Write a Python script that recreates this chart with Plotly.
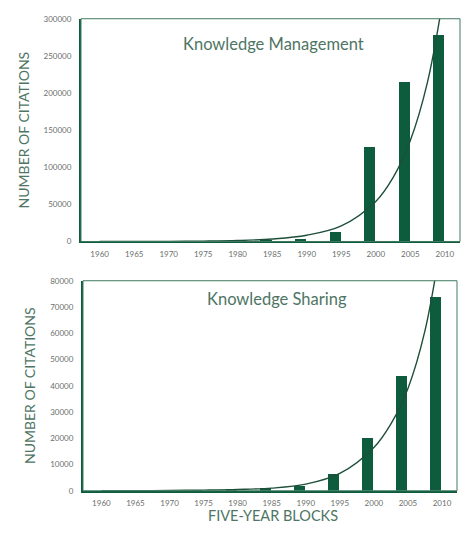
import plotly.graph_objects as go
from plotly.subplots import make_subplots

years = [1960, 1965, 1970, 1975, 1980, 1985, 1990, 1995, 2000, 2005, 2010]
km_citations = [0, 0, 0, 500, 1000, 2000, 3500, 13000, 127000, 215000, 278000]
ks_citations = [0, 0, 0, 100, 400, 1000, 1900, 6600, 20200, 44000, 73800]

trend_years = [1960, 1965, 1970, 1975, 1980, 1985, 1990, 1995, 2000, 2002.5, 2005, 2007.5, 2010]
km_trend = [30, 80, 200, 530, 1300, 3400, 8500, 21000, 54000, 86000, 136000, 215000, 342000]
ks_trend = [15, 40, 100, 250, 500, 1000, 2500, 6600, 16500, 25500, 39000, 61000, 97000]

km_yticks = [0, 50000, 100000, 150000, 200000, 250000, 300000]
ks_yticks = [0, 10000, 20000, 30000, 40000, 50000, 60000, 70000, 80000]

GREEN = "#0d5c3d"
TEXT = "#4e7564"
TICK = "#6a6f6c"
FONT = "Lato, 'DejaVu Sans', sans-serif"

fig = make_subplots(rows=2, cols=1, vertical_spacing=0.0)

for row, vals, trend in [(1, km_citations, km_trend), (2, ks_citations, ks_trend)]:
    fig.add_trace(go.Bar(x=years, y=vals, width=1.6, offset=-1.7,
                         marker=dict(color=GREEN, line=dict(width=0)),
                         showlegend=False), row=row, col=1)
    fig.add_trace(go.Scatter(x=trend_years, y=trend, mode="lines",
                             line=dict(color="#1f4f3a", width=1.4, shape="spline", smoothing=1.0),
                             showlegend=False), row=row, col=1)

H = 535.0
W = 474.0
fig.update_layout(
    width=474, height=535,
    margin=dict(l=0, r=0, t=0, b=0),
    paper_bgcolor="white", plot_bgcolor="white",
    font=dict(family=FONT, color=TEXT),
    xaxis=dict(domain=[81 / W, 460 / W], anchor="y"),
    yaxis=dict(domain=[1 - 241 / H, 1 - 14 / H], anchor="x"),
    xaxis2=dict(domain=[83 / W, 457 / W], anchor="y2"),
    yaxis2=dict(domain=[1 - 495 / H, 1 - 281 / H], anchor="x2"),
    bargap=0,
)

for ax in ["xaxis", "xaxis2"]:
    fig.layout[ax].update(range=[1957.3, 2012.2], tickmode="array", tickvals=years,
                          ticktext=[str(y) for y in years], showgrid=False, zeroline=False,
                          showline=True, linecolor=GREEN, linewidth=2, ticks="",
                          tickfont=dict(size=8, color=TICK, family=FONT), ticklabelstandoff=4)

fig.layout.yaxis.update(range=[0, 300000], tickvals=km_yticks, ticktext=[str(v) for v in km_yticks])
fig.layout.yaxis2.update(range=[0, 80000], tickvals=ks_yticks, ticktext=[str(v) for v in ks_yticks])
for ax in ["yaxis", "yaxis2"]:
    fig.layout[ax].update(showgrid=False, zeroline=False, showline=True, linecolor=GREEN,
                          linewidth=2, ticks="", tickfont=dict(size=8, color=TICK, family=FONT),
                          ticklabelstandoff=6,
                          title=dict(text="NUMBER OF CITATIONS", font=dict(size=14, color=TEXT, family=FONT),
                                     standoff=11))

for xr, yr in [("x", "y"), ("x2", "y2")]:
    fig.add_shape(type="rect", xref=f"{xr} domain", yref=f"{yr} domain", x0=0, x1=1, y0=0, y1=1,
                  line=dict(color="#3f7a60", width=1), fillcolor="rgba(0,0,0,0)", layer="above")

fig.add_annotation(text="Knowledge Management", xref="paper", yref="paper", x=273 / W, y=1 - 40 / H,
                   yanchor="middle", showarrow=False, font=dict(size=16.5, color=TEXT, family=FONT))
fig.add_annotation(text="Knowledge Sharing", xref="paper", yref="paper", x=277 / W, y=1 - 300 / H,
                   yanchor="middle", showarrow=False, font=dict(size=16.5, color=TEXT, family=FONT))
fig.add_annotation(text="FIVE-YEAR BLOCKS", xref="paper", yref="paper", x=273 / W, y=1 - 520 / H,
                   yanchor="middle", showarrow=False, font=dict(size=14.5, color=TEXT, family=FONT))

fig.write_html("out.html")
